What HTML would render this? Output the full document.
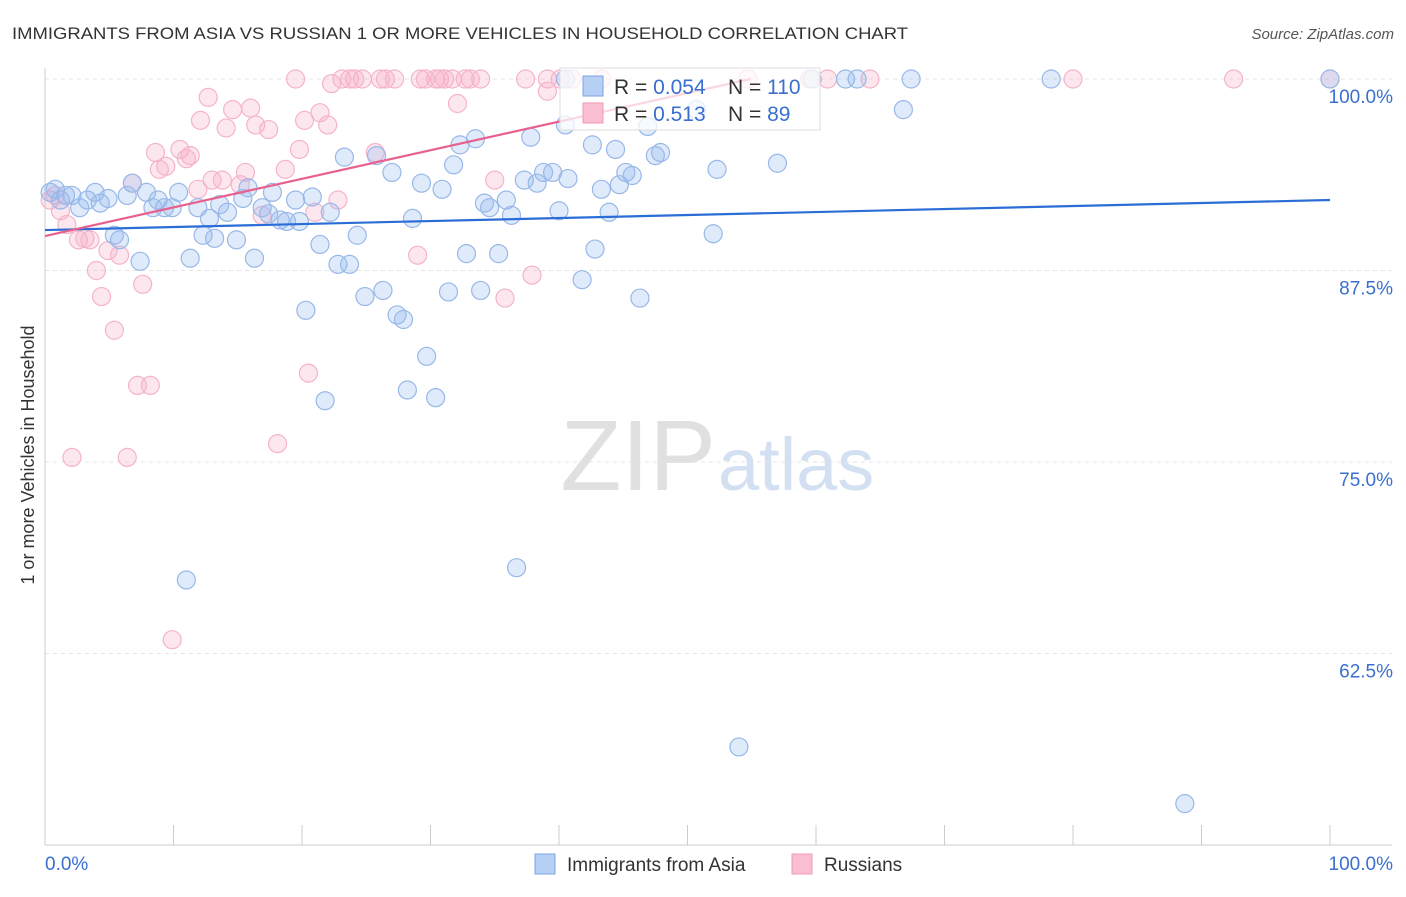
<!DOCTYPE html>
<html><head><meta charset="utf-8"><style>
body{margin:0;background:#fff;font-family:"Liberation Sans",sans-serif;}
svg text{font-family:"Liberation Sans",sans-serif;}
</style></head><body>
<svg id="chart" width="1406" height="892" xmlns="http://www.w3.org/2000/svg">
<text x="12" y="39" font-size="17" fill="#333" textLength="896" lengthAdjust="spacingAndGlyphs">IMMIGRANTS FROM ASIA VS RUSSIAN 1 OR MORE VEHICLES IN HOUSEHOLD CORRELATION CHART</text>
<text x="1394" y="39" font-size="15" fill="#555" font-style="italic" text-anchor="end">Source: ZipAtlas.com</text>
<text x="716" y="490" font-size="100" fill="#e0e0e0" text-anchor="end" font-family="Liberation Serif">ZIP</text>
<text x="718" y="490" font-size="74" fill="#d3e0f2">atlas</text>
<g id="grid"></g><g id="axes"></g><g id="pts"></g><g id="trend"></g>
<text transform="translate(34,455) rotate(-90)" font-size="18" fill="#333" text-anchor="middle">1 or more Vehicles in Household</text>
<g>
<rect x="560" y="68" width="260" height="62" fill="rgba(255,255,255,0.75)" stroke="#ddd"/>
<rect x="583" y="76" width="20" height="20" fill="#b6cff5" stroke="#7ba4e0"/>
<rect x="583" y="103" width="20" height="20" fill="#f9bed0" stroke="#f09ab8"/>
<text x="614" y="94" font-size="21" fill="#333">R = <tspan fill="#3a6fd0">0.054</tspan></text>
<text x="728" y="94" font-size="21" fill="#333">N = <tspan fill="#3a6fd0">110</tspan></text>
<text x="614" y="121" font-size="21" fill="#333">R = <tspan fill="#3a6fd0"> 0.513</tspan></text>
<text x="728" y="121" font-size="21" fill="#333">N = <tspan fill="#3a6fd0"> 89</tspan></text>
</g>
<g>
<rect x="535" y="854" width="20" height="20" fill="#b6cff5" stroke="#7ba4e0"/>
<text x="567" y="871" font-size="19" fill="#333">Immigrants from Asia</text>
<rect x="792" y="854" width="20" height="20" fill="#f9bed0" stroke="#f09ab8"/>
<text x="824" y="871" font-size="19" fill="#333">Russians</text>
</g>
</svg>
<script>
const yTicks=[100,87.5,75,62.5];
const yTickLabels=["100.0%","87.5%","75.0%","62.5%"];
const xTicks=[0,10,20,30,40,50,60,70,80,90,100];
const xEndLabels=["0.0%","100.0%"];
const asiaX=[0.4,0.8,1.2,1.6,2.1,2.7,3.3,3.9,4.3,4.9,5.4,5.8,6.4,6.8,7.4,7.9,8.4,8.8,9.3,9.9,10.4,11.0,11.3,11.9,12.3,12.8,13.2,13.6,14.2,14.9,15.4,15.8,16.3,16.9,17.4,17.7,18.3,18.8,19.5,19.8,20.3,20.8,21.4,21.8,22.2,22.8,23.3,23.7,24.3,24.9,25.8,26.3,27.0,27.4,27.9,28.2,28.6,29.3,29.7,30.4,30.9,31.4,31.8,32.3,32.8,33.5,33.9,34.2,34.6,35.3,35.9,36.3,36.7,37.3,37.8,38.3,38.8,39.5,40.0,40.7,40.5,41.8,42.6,42.8,43.3,43.9,44.4,44.7,45.2,45.7,46.3,46.9,47.5,47.9,50.7,52.0,52.3,54.0,57.0,62.3,63.2,66.8,67.4,78.3,88.7,100,40.5,59.7];
const asiaY=[92.6,92.8,92.1,92.4,92.4,91.6,92.1,92.6,91.9,92.2,89.8,89.5,92.4,93.2,88.1,92.6,91.6,92.1,91.6,91.6,92.6,67.3,88.3,91.6,89.8,90.9,89.6,91.8,91.3,89.5,92.2,92.9,88.3,91.6,91.2,92.6,90.8,90.7,92.1,90.7,84.9,92.3,89.2,79.0,91.3,87.9,94.9,87.9,89.8,85.8,95.0,86.2,93.9,84.6,84.3,79.7,90.9,93.2,81.9,79.2,92.8,86.1,94.4,95.7,88.6,96.1,86.2,91.9,91.6,88.6,92.1,91.1,68.1,93.4,96.2,93.2,93.9,93.9,91.4,93.5,97.0,86.9,95.7,88.9,92.8,91.3,95.4,93.1,93.9,93.7,85.7,96.9,95.0,95.2,98.0,89.9,94.1,56.4,94.5,100,100,98.0,100,100,52.7,100,100,100];
const rusX=[0.4,0.8,1.2,1.7,2.1,2.6,3.1,3.5,4.0,4.4,4.9,5.4,5.8,6.4,6.8,7.2,7.6,8.2,8.6,8.9,9.4,9.9,10.5,11.0,11.3,11.9,12.1,12.7,13.0,13.8,14.1,14.6,15.2,15.6,16.0,16.4,16.9,17.4,18.1,18.7,19.5,19.8,20.2,20.5,21.0,21.4,22.0,22.3,22.8,23.1,23.7,24.1,24.7,25.7,26.1,26.5,27.2,29.0,29.2,29.6,30.4,30.7,31.1,31.7,32.1,32.7,33.1,33.9,35.0,35.8,37.4,37.9,39.1,39.1,40.1,41.0,43.3,54.7,59.5,60.9,64.2,80.0,92.5,100];
const rusY=[92.1,92.4,91.4,90.5,75.3,89.5,89.6,89.5,87.5,85.8,88.8,83.6,88.5,75.3,93.2,80.0,86.6,80.0,95.2,94.1,94.3,63.4,95.4,94.8,95.0,92.8,97.3,98.8,93.4,93.4,96.8,98.0,93.1,93.9,98.1,97.0,91.1,96.7,76.2,94.1,100,95.4,97.3,80.8,91.3,97.8,97.0,99.7,92.1,100,100,100,100,95.2,100,100,100,88.5,100,100,100,100,100,100,98.4,100,100,100,93.4,85.7,100,87.2,99.2,100,100,100,100,100,100,100,100,100,100,100];
const asiaTrend=[90.14,92.1];
const rusTrend=[89.75,100];
const rusTrendEnd=54.9;
const X=v=>45+v*12.85, Y=v=>79+(100-v)*15.32;
const NS="http://www.w3.org/2000/svg";
function mk(tag,attrs,parent){const e=document.createElementNS(NS,tag);for(const k in attrs)e.setAttribute(k,attrs[k]);document.getElementById(parent).appendChild(e);return e;}
yTicks.forEach((t,i)=>{
 const l=mk('line',{x1:45,x2:1392,y1:Y(t),y2:Y(t),stroke:'#e4e4e4','stroke-dasharray':'4,4'},'grid');
 
 
 const tx=mk('text',{x:1393,y:Y(t)+24,'font-size':19,fill:'#3a6fd0','text-anchor':'end'},'grid');
 tx.textContent=yTickLabels[i];
 
 
});
const ya=mk('line',{x1:45,x2:45,y1:68,y2:845,stroke:'#ccc'},'axes');


const xa=mk('line',{x1:45,x2:1392,y1:845,y2:845,stroke:'#ccc'},'axes');


xTicks.forEach(t=>{
 const l=mk('line',{x1:X(t),x2:X(t),y1:825,y2:845,stroke:'#ccc'},'axes');
 
 
});
[[0,'start',45],[100,'end',1393]].forEach((d,i)=>{
 const tx=mk('text',{x:d[2],y:870,'font-size':19,fill:'#3a6fd0','text-anchor':d[1]},'axes');
 tx.textContent=xEndLabels[i];
 
 
});
rusX.forEach((x,i)=>{
 const c=mk('circle',{cx:X(x),cy:Y(rusY[i]),r:9,fill:'rgba(248,175,200,0.3)',stroke:'#f4b3ca','stroke-width':1.2},'pts');
 
 
});
asiaX.forEach((x,i)=>{
 const c=mk('circle',{cx:X(x),cy:Y(asiaY[i]),r:9,fill:'rgba(150,185,240,0.3)',stroke:'#98b8e8','stroke-width':1.2},'pts');
 
 
});
const t1=mk('line',{x1:X(0),y1:Y(asiaTrend[0]),x2:X(100),y2:Y(asiaTrend[1]),stroke:'#2a6dd6','stroke-width':2.2},'trend');


const t2=mk('line',{x1:X(0),y1:Y(rusTrend[0]),x2:X(rusTrendEnd),y2:Y(rusTrend[1]),stroke:'#e8608e','stroke-width':2.2},'trend');


</script>
</body></html>
